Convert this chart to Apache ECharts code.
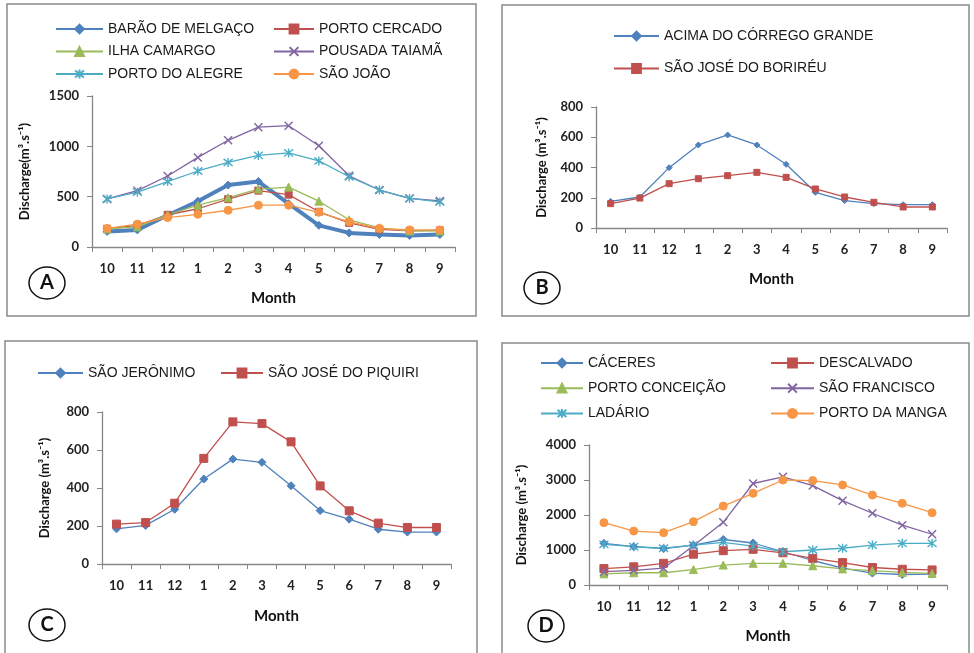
<!DOCTYPE html>
<html>
<head>
<meta charset="utf-8">
<script src="https://cdn.jsdelivr.net/npm/echarts@6/dist/echarts.min.js"></script>
<style>
html,body{margin:0;padding:0;background:#fff;}
#chart{width:974px;height:653px;}
</style>
</head>
<body>
<div id="chart"></div>
<script>
// ---- Data ----
const months = ['10','11','12','1','2','3','4','5','6','7','8','9'];

// Panel A
const baraoDeMelgaco = [155,170,315,455,615,650,430,215,140,125,115,125];
const portoCercado   = [180,215,320,380,475,560,520,350,240,175,160,165];
const ilhaCamargo    = [180,200,320,415,490,575,595,455,270,190,160,160];
const pousadaTaiama  = [477,560,705,890,1060,1190,1205,1005,708,566,483,457];
const portoDoAlegre  = [477,545,650,755,840,910,935,855,698,566,483,448];
const saoJoao        = [185,228,292,325,365,415,415,345,250,185,170,170];

// Panel B
const acimaCorregoGrande = [176,205,399,549,615,549,421,236,181,161,154,154];
const saoJoseBorireu     = [161,198,293,326,346,368,335,258,205,170,139,139];

// Panel C
const saoJeronimo    = [185,203,288,447,552,535,412,281,236,183,168,168];
const saoJosePiquiri = [210,218,320,556,748,739,643,411,280,215,192,192];

// Panel D
const caceres        = [1190,1095,1040,1140,1300,1200,950,700,480,340,300,310];
const descalvado     = [470,520,620,880,980,1020,920,760,640,500,450,430];
const portoConceicao = [320,350,350,440,570,620,620,550,460,410,360,330];
const saoFrancisco   = [380,420,480,1120,1790,2900,3090,2840,2410,2050,1710,1450];
const ladario        = [1160,1095,1050,1140,1220,1110,950,1000,1050,1140,1190,1190];
const portoDaManga   = [1780,1540,1495,1810,2255,2620,3000,2985,2860,2570,2335,2065];

const yMax = [1500, 800, 800, 4000];
const yInterval = [500, 200, 200, 1000];
const yName = 'Discharge(m³.s⁻¹)';
const yNameSp = 'Discharge (m³.s⁻¹)';
const xName = 'Month';

// ---- Styling ----
const C = {blue:'#4F81BD', red:'#C0504D', green:'#9BBB59', purple:'#8064A2', cyan:'#4BACC6', orange:'#F79646'};
const SYM = {
  diamond:'diamond', square:'rect', triangle:'triangle', circle:'circle',
  x:'path://M0,0L10,10M10,0L0,10',
  star:'path://M1,1L9,9M9,1L1,9M5,0L5,10'
};
const FONT = 'Lato';
const LFONT = 'Liberation Sans';

function ser(name, data, color, sym, size, g, lw){
  return {
    name, type:'line', data, xAxisIndex:g, yAxisIndex:g,
    symbol:SYM[sym], symbolSize:size, showSymbol:true,
    lineStyle:{color, width:lw||1.3},
    itemStyle:{color, borderColor:color, borderWidth:(sym==='x'||sym==='star')?1.4:1},
    emphasis:{disabled:true}, animation:false, z: 3
  };
}

const grids = [
  {left:92, right:519, top:96, bottom:406},
  {left:596, right:27, top:107, bottom:425},
  {left:102, right:523, top:412, bottom:89},
  {left:589, right:27, top:445, bottom:68}
];
const yGap = [61, 48, 51, 61];
const xGap = [44, 44, 45, 44];

const xAxes = grids.map((g,i)=>({
  type:'category', gridIndex:i, data:months, boundaryGap:true,
  name:xName, nameLocation:'middle', nameGap:xGap[i],
  nameTextStyle:{fontFamily:FONT, fontWeight:'bold', fontSize:15, color:'#111'},
  axisLine:{lineStyle:{color:'#868686', width:1.3}},
  axisTick:{show:true, inside:false, length:5, alignWithLabel:false, lineStyle:{color:'#868686'}},
  axisLabel:{fontFamily:FONT, fontWeight:'bold', fontSize:13, color:'#222', margin:15, interval:0},
  splitLine:{show:false}
}));
const yAxes = grids.map((g,i)=>({
  type:'value', gridIndex:i, min:0, max:yMax[i], interval:yInterval[i],
  name:(i===0?yName:yNameSp), nameLocation:'middle', nameGap:yGap[i], nameRotate:90,
  nameTextStyle:{fontFamily:FONT, fontWeight:'bold', fontSize:13, color:'#111'},
  axisLine:{show:true, lineStyle:{color:'#868686', width:1.3}},
  axisTick:{show:true, inside:false, length:5, lineStyle:{color:'#868686'}},
  axisLabel:{fontFamily:FONT, fontWeight:'bold', fontSize:13, color:'#222', margin:13,
    formatter:(v)=>String(v)},
  splitLine:{show:false}
}));

const series = [
  ser('BARÃO DE MELGAÇO', baraoDeMelgaco, C.blue, 'diamond', 8, 0, 4),
  ser('PORTO CERCADO', portoCercado, C.red, 'square', 7, 0),
  ser('ILHA CAMARGO', ilhaCamargo, C.green, 'triangle', 8, 0),
  ser('POUSADA TAIAMÃ', pousadaTaiama, C.purple, 'x', 8, 0),
  ser('PORTO DO ALEGRE', portoDoAlegre, C.cyan, 'star', 9, 0),
  ser('SÃO JOÃO', saoJoao, C.orange, 'circle', 8, 0),

  ser('ACIMA DO CÓRREGO GRANDE', acimaCorregoGrande, C.blue, 'diamond', 6, 1),
  ser('SÃO JOSÉ DO BORIRÉU', saoJoseBorireu, C.red, 'square', 6, 1),

  ser('SÃO JERÔNIMO', saoJeronimo, C.blue, 'diamond', 8, 2),
  ser('SÃO JOSÉ DO PIQUIRI', saoJosePiquiri, C.red, 'square', 8, 2),

  ser('CÁCERES', caceres, C.blue, 'diamond', 8, 3),
  ser('DESCALVADO', descalvado, C.red, 'square', 8, 3),
  ser('PORTO CONCEIÇÃO', portoConceicao, C.green, 'triangle', 8, 3),
  ser('SÃO FRANCISCO', saoFrancisco, C.purple, 'x', 8, 3),
  ser('LADÁRIO', ladario, C.cyan, 'star', 9, 3),
  ser('PORTO DA MANGA', portoDaManga, C.orange, 'circle', 8, 3)
];

function leg(data, left, top, w, gap){
  return {
    data, left, top, orient:'vertical', itemWidth:w, itemHeight:11, itemGap:gap,
    selectedMode:false,
    textStyle:{fontFamily:LFONT, fontSize:14, color:'#1a1a1a', padding:[0,0,0,0]}
  };
}
const legends = [
  leg(['BARÃO DE MELGAÇO','ILHA CAMARGO','PORTO DO ALEGRE'], 50, 17, 47, 8.5),
  leg(['PORTO CERCADO','POUSADA TAIAMÃ','SÃO JOÃO'], 268, 17, 40, 8.5),
  leg(['ACIMA DO CÓRREGO GRANDE','SÃO JOSÉ DO BORIRÉU'], 608, 24, 45, 18.5),
  leg(['SÃO JERÔNIMO'], 32, 361, 45, 9),
  leg(['SÃO JOSÉ DO PIQUIRI'], 215, 361, 42, 9),
  leg(['CÁCERES','PORTO CONCEIÇÃO','LADÁRIO'], 535, 351, 42, 11.2),
  leg(['DESCALVADO','SÃO FRANCISCO','PORTO DA MANGA'], 765, 351, 43, 11.2)
];

function panelRect(x,y,w,h){
  return {type:'rect', shape:{x,y,width:w,height:h}, style:{fill:'none', stroke:'#8a8a8a', lineWidth:1.5}, silent:true, z:0};
}
function badge(cx,cy,letter){
  return [
    {type:'ellipse', shape:{cx, cy, rx:18, ry:16}, style:{fill:'#fff', stroke:'#111', lineWidth:1.5}, silent:true, z:10},
    {type:'text', x:cx, y:cy, style:{text:letter, fontFamily:FONT, fontWeight:'bold', fontSize:20, fill:'#111', align:'center', verticalAlign:'middle'}, silent:true, z:11}
  ];
}

const option = {
  backgroundColor:'#ffffff',
  animation:false,
  grid: grids,
  xAxis: xAxes,
  yAxis: yAxes,
  legend: legends,
  series,
  graphic: [
    panelRect(7,4,469,312),
    panelRect(502,5,467,311),
    panelRect(5,341,472,320),
    panelRect(502,343,467,320),
    ...badge(47,283,'A'),
    ...badge(542,288,'B'),
    ...badge(47,625,'C'),
    ...badge(546,626,'D')
  ]
};

const chart = echarts.init(document.getElementById('chart'), null, {renderer:'canvas'});
chart.setOption(option);
</script>
</body>
</html>
